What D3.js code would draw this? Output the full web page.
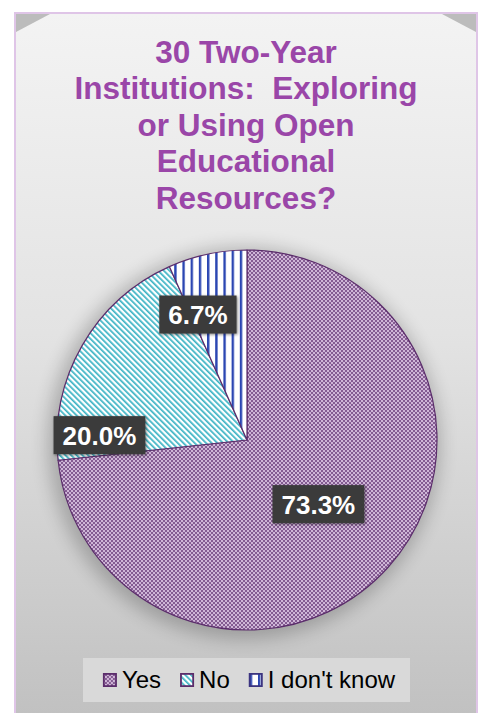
<!DOCTYPE html>
<html>
<head>
<meta charset="utf-8">
<script src="https://cdn.jsdelivr.net/npm/d3@7"></script>
<style>
  html, body { margin: 0; padding: 0; background: #ffffff; }
  svg { display: block; }
</style>
</head>
<body>
<svg id="chart" width="482" height="713"></svg>
<script>
// Survey answers
const categories = ["Yes", "No", "I don't know"];
const values = [73.3, 20.0, 6.7];
const titleLines = ["30 Two-Year", "Institutions:\u00a0\u00a0Exploring", "or Using Open", "Educational", "Resources?"];

// Where each value label sits: fraction of radius and angular shift (deg) from the slice middle
const labelPlacement = [
  { r: 0.505, shift: 0 },
  { r: 0.777, shift: -28 },
  { r: 0.709, shift: -9.3 }
];

const W = 482, H = 713;
const cx = 247, cy = 440, R = 190;
const sliceStroke = "#5b2c6b";

const svg = d3.select("#chart");
const defs = svg.append("defs");

// background gradient
const bg = defs.append("linearGradient").attr("id", "bgGrad")
  .attr("x1", 0).attr("y1", 0).attr("x2", 0).attr("y2", 1);
bg.append("stop").attr("offset", "0%").attr("stop-color", "#f3f3f3");
bg.append("stop").attr("offset", "45%").attr("stop-color", "#e3e3e3");
bg.append("stop").attr("offset", "100%").attr("stop-color", "#c0c0c0");

// soft halo behind the pie
defs.append("filter").attr("id", "halo")
  .attr("x", "-30%").attr("y", "-30%").attr("width", "160%").attr("height", "160%")
  .append("feGaussianBlur").attr("stdDeviation", 9);

const shadow = defs.append("filter").attr("id", "boxShadow")
  .attr("x", "-20%").attr("y", "-30%").attr("width", "140%").attr("height", "160%");
shadow.append("feGaussianBlur").attr("in", "SourceAlpha").attr("stdDeviation", 1.5).attr("result", "b");
shadow.append("feOffset").attr("in", "b").attr("dx", 0.5).attr("dy", 1).attr("result", "o");
shadow.append("feComponentTransfer").attr("in", "o").attr("result", "s")
  .append("feFuncA").attr("type", "linear").attr("slope", 0.5);
const mg = shadow.append("feMerge");
mg.append("feMergeNode").attr("in", "s");
mg.append("feMergeNode").attr("in", "SourceGraphic");

// slice fill patterns
const pYes = defs.append("pattern").attr("id", "pat0")
  .attr("patternUnits", "userSpaceOnUse").attr("width", 4).attr("height", 4);
pYes.append("rect").attr("width", 4).attr("height", 4).attr("fill", "#cfb6d7");
pYes.append("rect").attr("width", 2).attr("height", 2).attr("fill", "#845c92");
pYes.append("rect").attr("x", 2).attr("y", 2).attr("width", 2).attr("height", 2).attr("fill", "#845c92");

const pNo = defs.append("pattern").attr("id", "pat1")
  .attr("patternUnits", "userSpaceOnUse").attr("width", 4).attr("height", 4)
  .attr("patternTransform", "rotate(-45)");
pNo.append("rect").attr("width", 4).attr("height", 4).attr("fill", "#ffffff");
pNo.append("rect").attr("width", 1.7).attr("height", 4).attr("fill", "#3bb3c4");

const pDk = defs.append("pattern").attr("id", "pat2")
  .attr("patternUnits", "userSpaceOnUse").attr("width", 8.2).attr("height", 8)
  .attr("x", cx);
pDk.append("rect").attr("width", 8.2).attr("height", 8).attr("fill", "#ffffff");
pDk.append("rect").attr("x", 0).attr("width", 2.4).attr("height", 8).attr("fill", "#2b46b2");

const fills = ["url(#pat0)", "url(#pat1)", "url(#pat2)"];

// frame
svg.append("rect").attr("x", 0).attr("y", 0).attr("width", W).attr("height", H).attr("fill", "#ffffff");
svg.append("rect").attr("x", 15).attr("y", 13).attr("width", 462).attr("height", H)
  .attr("fill", "url(#bgGrad)").attr("stroke", "#dfc5e7").attr("stroke-width", 2);
// folded corners
svg.append("path").attr("d", "M16,14 L50,14 L16,32 Z").attr("fill", "#bcbcbc");
svg.append("path").attr("d", "M476,14 L442,14 L476,32 Z").attr("fill", "#bcbcbc");

// title
const title = svg.append("text")
  .attr("x", 246).attr("y", 62.5)
  .attr("text-anchor", "middle")
  .attr("fill", "#9a46a8")
  .attr("font-family", "Liberation Sans, Arial, sans-serif")
  .attr("font-weight", "bold")
  .attr("font-size", 31.5);
titleLines.forEach((t, i) => {
  title.append("tspan").attr("x", 246).attr("dy", i === 0 ? 0 : 36.6).text(t);
});

// pie
const pie = d3.pie().sort(null).value(d => d.value);
const arcs = pie(categories.map((c, i) => ({ name: c, value: values[i] })));
const arc = d3.arc().innerRadius(0).outerRadius(R);

const g = svg.append("g").attr("transform", `translate(${cx},${cy})`);
g.append("circle").attr("r", R + 6).attr("cx", -3).attr("cy", 3)
  .attr("fill", "#000").attr("opacity", 0.22).attr("filter", "url(#halo)");

g.selectAll("path.slice").data(arcs).join("path")
  .attr("class", "slice")
  .attr("d", arc)
  .attr("fill", (d, i) => fills[i])
  .attr("stroke", sliceStroke)
  .attr("stroke-width", 1.2)
  .attr("stroke-linejoin", "round");

// value labels
const fmt = d3.format(".1f");
arcs.forEach((d, i) => {
  const p = labelPlacement[i];
  const a = (d.startAngle + d.endAngle) / 2 + p.shift * Math.PI / 180;
  const x = Math.sin(a) * R * p.r;
  const y = -Math.cos(a) * R * p.r;
  const lg = g.append("g").attr("transform", `translate(${x},${y})`);
  const box = lg.append("rect").attr("fill", "#3a3a3a").attr("filter", "url(#boxShadow)");
  const txt = lg.append("text")
    .attr("text-anchor", "middle")
    .attr("dy", "0.36em")
    .attr("fill", "#ffffff")
    .attr("font-family", "Liberation Sans, Arial, sans-serif")
    .attr("font-weight", "bold")
    .attr("font-size", 26)
    .text(fmt(d.data.value) + "%");
  const w = txt.node().getComputedTextLength() + 18;
  const h = 38;
  box.attr("x", -w / 2).attr("y", -h / 2).attr("width", w).attr("height", h);
});

// legend
const legend = svg.append("g");
const legBox = legend.append("rect").attr("fill", "#d9d9d9");
const items = legend.append("g");
let lx = 0;
const markerSize = 14;
categories.forEach((c, i) => {
  const it = items.append("g").attr("transform", `translate(${lx},0)`);
  it.append("rect").attr("x", 0.9).attr("y", -14.1).attr("width", markerSize - 1.8).attr("height", markerSize - 1.8)
    .attr("fill", fills[i]).attr("stroke", i === 2 ? "#3b3480" : sliceStroke).attr("stroke-width", 1.8);
  const t = it.append("text")
    .attr("x", markerSize + 5).attr("y", 0)
    .attr("fill", "#000")
    .attr("font-family", "Liberation Sans, Arial, sans-serif")
    .attr("font-size", 24)
    .text(c);
  lx += markerSize + 5 + t.node().getComputedTextLength() + 19;
});
const itemsWidth = lx - 19;
const legCx = 249, legBase = 688;
items.attr("transform", `translate(${legCx - itemsWidth / 2},${legBase})`);
legBox.attr("x", 83).attr("y", 658).attr("width", 327).attr("height", 44);
</script>
</body>
</html>
